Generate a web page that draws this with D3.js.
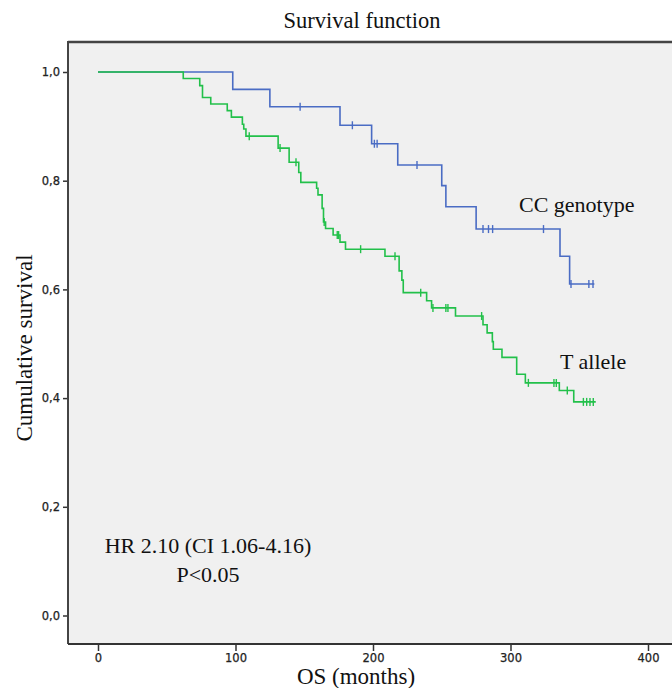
<!DOCTYPE html>
<html>
<head>
<meta charset="utf-8">
<script src="https://cdn.jsdelivr.net/npm/d3@7"></script>
<style>
    body { margin: 0; background: #fff; }
    .serif { font-family: "Liberation Serif", "Times New Roman", serif; font-size: 22px; fill: #111; }
    .axis text { font-family: "DejaVu Sans", sans-serif; font-size: 11.5px; fill: #222; stroke: #222; stroke-width: 0.25; }
    .axis line { stroke: #333; stroke-width: 1.5; }
</style>
</head>
<body>
<script>
    //CC genotype group: step times (months) and survival after each step
    var ccTimes = [0, 98, 125, 176, 199, 218, 250, 253, 275, 336, 343, 361];
    var ccSurv = [1, 0.968, 0.936, 0.902, 0.868, 0.829, 0.791, 0.752, 0.711, 0.661, 0.610, 0.610];
    var ccCensor = [147, 185, 201, 203, 232, 280, 284, 287, 324, 344, 357, 360];

    //T allele group
    var tTimes = [0, 62, 74, 76, 82, 94, 97, 105, 106, 107.6, 131, 139, 146, 147.5, 159, 160, 163, 164,
        165.5, 171, 176, 180, 208.7, 219, 221, 222, 239, 242.6, 260, 280, 283, 286.8, 287.5, 293.8,
        304.5, 310.8, 335.5, 346, 362];
    var tSurv = [1, 0.988, 0.975, 0.953, 0.941, 0.929, 0.917, 0.904, 0.895, 0.882, 0.860, 0.834, 0.815, 0.797,
        0.786, 0.774, 0.749, 0.724, 0.712, 0.700, 0.687, 0.674, 0.661, 0.634, 0.617, 0.594, 0.579, 0.566,
        0.551, 0.535, 0.520, 0.504, 0.490, 0.475, 0.444, 0.428, 0.414, 0.393, 0.393];
    var tCensor = [110, 132.4, 144, 164.5, 174, 175, 191, 216, 234.7, 243.6, 253, 254.5, 279, 313,
        331.6, 333.3, 341.3, 353, 355.4, 357.8, 360.2];

    //axis ticks
    var xTicks = [0, 100, 200, 300, 400];
    var yTicks = [0, 0.2, 0.4, 0.6, 0.8, 1.0];
    var yTickLabels = ["0,0", "0,2", "0,4", "0,6", "0,8", "1,0"];

    var width = 672;
    var height = 688;

    //plot frame
    var frame = { left: 68, top: 42, right: 672, bottom: 644 };

    //scales
    var xScale = d3.scaleLinear()
        .domain([0, 400])
        .range([98, 648]);

    var yScale = d3.scaleLinear()
        .domain([0, 1])
        .range([615.5, 72]);

    var svg = d3.select("body")
        .append("svg")
        .attr("width", width)
        .attr("height", height);

    //grey plot background
    svg.append("rect")
        .attr("x", frame.left)
        .attr("y", frame.top)
        .attr("width", frame.right - frame.left)
        .attr("height", frame.bottom - frame.top)
        .attr("fill", "#f0f0f0");

    //axes
    var yAxis = d3.axisLeft(yScale)
        .tickValues(yTicks)
        .tickSize(5)
        .tickPadding(3)
        .tickFormat(function (d, i) { return yTickLabels[i]; });

    var xAxis = d3.axisBottom(xScale)
        .tickValues(xTicks)
        .tickSize(7)
        .tickPadding(3)
        .tickFormat(d3.format("d"));

    svg.append("g")
        .attr("class", "axis y")
        .attr("transform", "translate(" + frame.left + ",0)")
        .call(yAxis)
        .call(function (g) { g.select(".domain").remove(); });

    svg.append("g")
        .attr("class", "axis x")
        .attr("transform", "translate(0," + frame.bottom + ")")
        .call(xAxis)
        .call(function (g) { g.select(".domain").remove(); });

    //frame lines
    svg.append("line")
        .attr("x1", frame.left).attr("x2", frame.right)
        .attr("y1", frame.top).attr("y2", frame.top)
        .attr("stroke", "#444").attr("stroke-width", 2.5);
    svg.append("line")
        .attr("x1", frame.left).attr("x2", frame.left)
        .attr("y1", frame.top - 1).attr("y2", frame.bottom)
        .attr("stroke", "#444").attr("stroke-width", 2);
    svg.append("line")
        .attr("x1", frame.left).attr("x2", frame.right)
        .attr("y1", frame.bottom).attr("y2", frame.bottom)
        .attr("stroke", "#333").attr("stroke-width", 1.8);

    //step line
    var line = d3.line()
        .x(function (d) { return xScale(d[0]); })
        .y(function (d) { return yScale(d[1]); })
        .curve(d3.curveStepAfter);

    //survival value at time t
    function survAt(times, surv, t) {
        var s = surv[0];
        for (var i = 0; i < times.length; i++) {
            if (times[i] <= t) s = surv[i];
        }
        return s;
    }

    function drawCurve(times, surv, censor, color) {
        var pts = times.map(function (t, i) { return [t, surv[i]]; });
        svg.append("path")
            .datum(pts)
            .attr("d", line)
            .attr("fill", "none")
            .attr("stroke", color)
            .attr("stroke-width", 1.6);

        //censor marks
        svg.append("g").selectAll("line")
            .data(censor)
            .enter()
            .append("line")
            .attr("x1", function (d) { return xScale(d); })
            .attr("x2", function (d) { return xScale(d); })
            .attr("y1", function (d) { return yScale(survAt(times, surv, d)) - 4; })
            .attr("y2", function (d) { return yScale(survAt(times, surv, d)) + 4; })
            .attr("stroke", color)
            .attr("stroke-width", 1.4);
    }

    drawCurve(ccTimes, ccSurv, ccCensor, "#4a6cc4");
    drawCurve(tTimes, tSurv, tCensor, "#22c04a");

    //texts
    svg.append("text").attr("class", "serif")
        .attr("x", 362).attr("y", 28)
        .attr("text-anchor", "middle")
        .style("font-size", "22.5px")
        .text("Survival function");

    svg.append("text").attr("class", "serif")
        .attr("x", 356).attr("y", 684)
        .attr("text-anchor", "middle")
        .style("font-size", "23px")
        .text("OS (months)");

    svg.append("text").attr("class", "serif")
        .attr("transform", "translate(32,348) rotate(-90)")
        .attr("text-anchor", "middle")
        .style("font-size", "23px")
        .text("Cumulative survival");

    svg.append("text").attr("class", "serif")
        .attr("x", 519).attr("y", 212)
        .text("CC genotype");

    svg.append("text").attr("class", "serif")
        .attr("x", 560).attr("y", 369)
        .text("T allele");

    svg.append("text").attr("class", "serif")
        .attr("x", 208).attr("y", 553)
        .attr("text-anchor", "middle")
        .text("HR 2.10 (CI 1.06-4.16)");

    svg.append("text").attr("class", "serif")
        .attr("x", 208).attr("y", 582)
        .attr("text-anchor", "middle")
        .text("P<0.05");
</script>
</body>
</html>
